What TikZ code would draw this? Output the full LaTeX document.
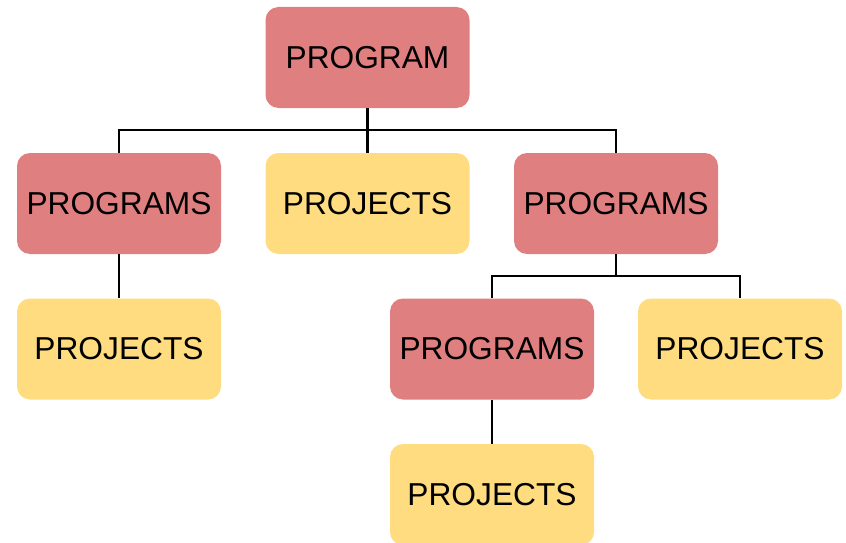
\documentclass[tikz,border=0pt]{standalone}
\usepackage{fontspec}
\setmainfont{Liberation Sans}
\definecolor{progred}{HTML}{E07F7F}
\definecolor{projyellow}{HTML}{FEDC7F}
\begin{document}
\begin{tikzpicture}[x=1pt,y=-1pt,
  box/.style={rounded corners=13pt, minimum width=204pt, minimum height=101pt,
    inner sep=0pt, font=\fontsize{31.7}{38}\selectfont, text=black},
  prog/.style={box, fill=progred},
  proj/.style={box, fill=projyellow},
  link/.style={line width=2.8pt, black, line join=miter}]
\useasboundingbox (0,0) rectangle (846,543);
% boxes of the hierarchy
\node[prog] (top) at (367.5,57.5) {PROGRAM};
\node[prog] (pa) at (119,203.5) {PROGRAMS};
\node[proj] (pb) at (367.5,203.5) {PROJECTS};
\node[prog] (pc) at (616,203.5) {PROGRAMS};
\node[proj] (qa) at (119,349) {PROJECTS};
\node[prog] (qb) at (492,349) {PROGRAMS};
\node[proj] (qc) at (740,349) {PROJECTS};
\node[proj] (ra) at (492,494.5) {PROJECTS};
% branching points of the connector buses
\coordinate (bus1) at (367.5,130);
\coordinate (bus2) at (616,276);
% connectors
\draw[link] (top.south) -- (bus1) -- (pb.north);
\draw[link] (pa.north) |- (bus1) -| (pc.north);
\draw[link] (pa.south) -- (qa.north);
\draw[link] (pc.south) -- (bus2);
\draw[link] (qb.north) |- (bus2) -| (qc.north);
\draw[link] (qb.south) -- (ra.north);
\end{tikzpicture}
\end{document}
